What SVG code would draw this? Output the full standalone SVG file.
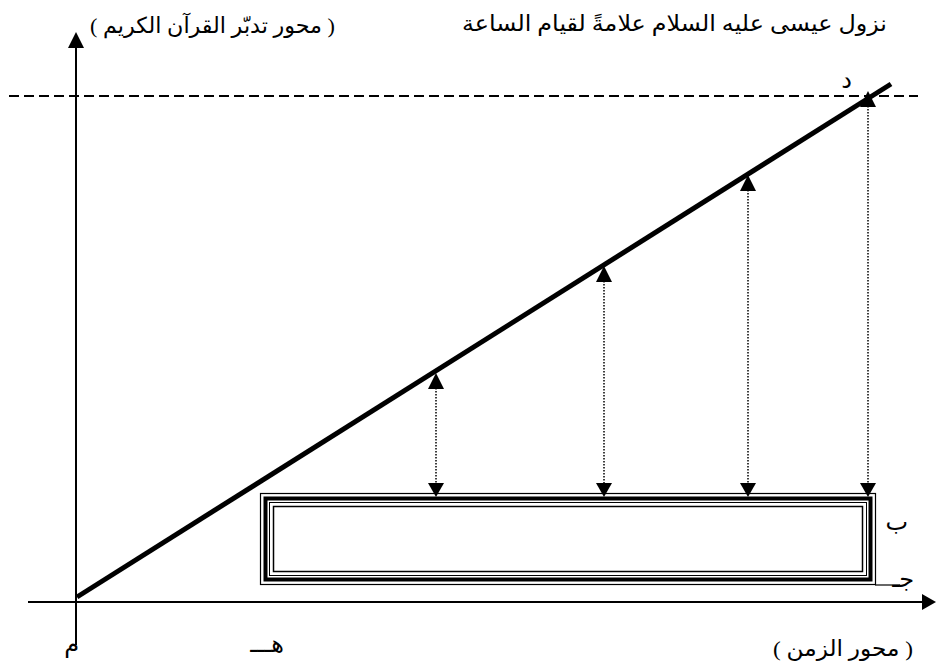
<svg xmlns="http://www.w3.org/2000/svg" width="936" height="669" viewBox="0 0 936 669">
<defs>
<style>
.t{font-family:"Liberation Serif","DejaVu Serif","DejaVu Sans",serif;font-size:22px;fill:#000}
.l{font-family:"Liberation Serif","DejaVu Serif","DejaVu Sans",serif;font-size:24px;fill:#000}
.ax{stroke:#000;stroke-width:2;fill:none}
.dot{stroke:#000;stroke-width:1.5;stroke-dasharray:1.5 1.5;fill:none}
.head{fill:#000}
</style>
</defs>
<rect width="936" height="669" fill="#fff"/>
<g id="axes">
<line class="ax" x1="76" y1="645" x2="76" y2="46"/>
<polygon class="head" points="76,32 68,48 84,48"/>
<line class="ax" x1="28" y1="602" x2="924" y2="602"/>
<polygon class="head" points="936,602 922,594 922,610"/>
</g>
<g id="ceiling">
<line x1="9" y1="96" x2="918" y2="96" stroke="#000" stroke-width="2" stroke-dasharray="10 5"/>
</g>
<g id="box">
<rect x="260.5" y="493.5" width="615" height="91" fill="none" stroke="#000" stroke-width="1.2"/>
<rect x="265.5" y="498.5" width="605" height="81" fill="none" stroke="#000" stroke-width="4"/>
<rect x="269.5" y="502.5" width="597" height="73" fill="none" stroke="#000" stroke-width="1"/>
<rect x="273.5" y="506.5" width="589" height="65" fill="none" stroke="#000" stroke-width="1.5"/>
</g>
<g id="connectors">
<line class="dot" x1="436" y1="388" x2="436" y2="484"/>
<polygon class="head" points="436,373 428,389 444,389"/>
<polygon class="head" points="436,497 428,483 444,483"/>
<line class="dot" x1="604" y1="281" x2="604" y2="484"/>
<polygon class="head" points="604,266 596,282 612,282"/>
<polygon class="head" points="604,497 596,483 612,483"/>
<line class="dot" x1="748" y1="190" x2="748" y2="484"/>
<polygon class="head" points="748,175 740,191 756,191"/>
<polygon class="head" points="748,497 740,483 756,483"/>
<line class="dot" x1="868" y1="106" x2="868" y2="484"/>
<polygon class="head" points="868,91 860,107 876,107"/>
<polygon class="head" points="868,497 860,483 876,483"/>
<line x1="875" y1="585" x2="900" y2="585" stroke="#000" stroke-width="1.2"/>
</g>
<g id="growth-line">
<line x1="77" y1="597" x2="891" y2="84" stroke="#000" stroke-width="5"/>
</g>
<g id="labels">
<text class="t" x="887" y="31" text-anchor="end" textLength="425" lengthAdjust="spacingAndGlyphs">نزول عيسى عليه السلام علامةً لقيام الساعة</text>
<text class="t" x="335" y="33" text-anchor="end" textLength="245" lengthAdjust="spacingAndGlyphs">( محور تدبّر القرآن الكريم )</text>
<text class="t" x="913" y="656" text-anchor="end" textLength="140" lengthAdjust="spacingAndGlyphs">( محور الزمن )</text>
<text class="l" x="852" y="88" text-anchor="end">د</text>
<text class="l" x="908" y="530" text-anchor="end">ب</text>
<text class="l" x="914" y="587" text-anchor="end">جـ</text>
<text class="l" x="284" y="652" text-anchor="end">هـــ</text>
<text class="l" x="79" y="652" text-anchor="end">م</text>
</g>
</svg>
